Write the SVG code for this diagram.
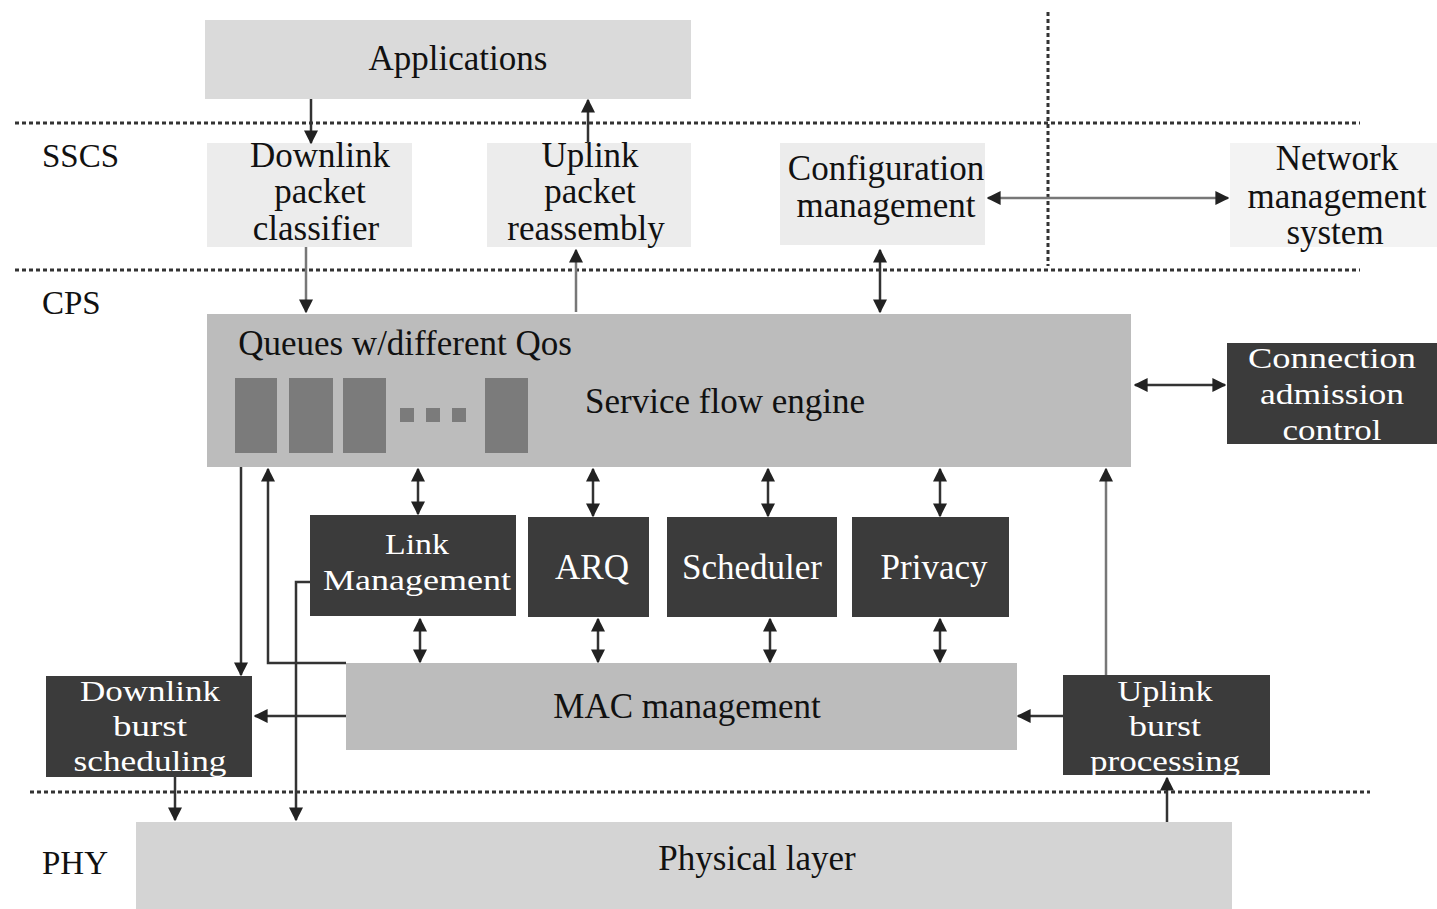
<svg xmlns="http://www.w3.org/2000/svg" width="1437" height="909" viewBox="0 0 1437 909">
  <defs>
    <marker id="ah" viewBox="0 0 10 10" refX="9" refY="5" markerWidth="14" markerHeight="14" markerUnits="userSpaceOnUse" orient="auto-start-reverse">
      <path d="M0,0 L10,5 L0,10 z" fill="#222"/>
    </marker>
    <style>
      .t { font-family: "Liberation Serif", "Times New Roman", serif; font-size: 35px; fill: #111; text-anchor: middle; }
      .w { fill: #fff; }
      .s { font-size: 30px; }
      .lbl { text-anchor: start; font-size: 33px; }
      .dot { stroke: #333; stroke-width: 3; stroke-dasharray: 4 3; fill: none; }
      .light { fill: #ececec; }
      .mid { fill: #bcbcbc; }
      .dark { fill: #3b3b3b; }
      .q { fill: #7b7b7b; }
      .c { stroke: #333; stroke-width: 2.5; fill: none; }
      .cg { stroke: #777; stroke-width: 2.5; fill: none; }
      .one { marker-end: url(#ah); }
      .two { marker-start: url(#ah); marker-end: url(#ah); }
    </style>
  </defs>
  <rect width="1437" height="909" fill="#fff"/>

  <!-- layer boundaries -->
  <g id="layers">
    <line class="dot" x1="15" y1="123" x2="1360" y2="123"/>
    <line class="dot" x1="15" y1="270" x2="1360" y2="270"/>
    <line class="dot" x1="30" y1="792" x2="1370" y2="792"/>
    <line class="dot" x1="1048" y1="12" x2="1048" y2="266"/>
    <text class="t lbl" x="42" y="167">SSCS</text>
    <text class="t lbl" x="42" y="314">CPS</text>
    <text class="t lbl" x="42" y="874">PHY</text>
  </g>

  <g id="applications">
    <rect x="205" y="20" width="486" height="79" fill="#dadada"/>
    <text class="t" x="458" y="70">Applications</text>
  </g>

  <g id="downlink-classifier">
    <rect class="light" x="207" y="143" width="205" height="104"/>
    <text class="t" x="320" y="167">Downlink</text>
    <text class="t" x="320" y="203">packet</text>
    <text class="t" x="316" y="240">classifier</text>
  </g>

  <g id="uplink-reassembly">
    <rect class="light" x="487" y="143" width="204" height="104"/>
    <text class="t" x="590" y="167">Uplink</text>
    <text class="t" x="590" y="203">packet</text>
    <text class="t" x="586" y="240">reassembly</text>
  </g>

  <g id="configuration">
    <rect class="light" x="780" y="143" width="205" height="102"/>
    <text class="t" x="886" y="180">Configuration</text>
    <text class="t" x="886" y="217">management</text>
  </g>

  <g id="network-management">
    <rect x="1230" y="143" width="207" height="104" fill="#f3f3f3"/>
    <text class="t" x="1337" y="170">Network</text>
    <text class="t" x="1337" y="208">management</text>
    <text class="t" x="1335" y="244">system</text>
  </g>

  <g id="service-flow-engine">
    <rect class="mid" x="207" y="314" width="924" height="153"/>
    <text class="t" x="405" y="355">Queues w/different Qos</text>
    <rect class="q" x="235" y="378" width="42" height="75"/>
    <rect class="q" x="289" y="378" width="44" height="75"/>
    <rect class="q" x="343" y="378" width="43" height="75"/>
    <rect class="q" x="400" y="408" width="14" height="14"/>
    <rect class="q" x="426" y="408" width="14" height="14"/>
    <rect class="q" x="452" y="408" width="14" height="14"/>
    <rect class="q" x="485" y="378" width="43" height="75"/>
    <text class="t" x="725" y="413">Service flow engine</text>
  </g>

  <g id="admission-control">
    <rect class="dark" x="1227" y="343" width="210" height="101"/>
    <text class="t w s" x="1332" y="368" textLength="168" lengthAdjust="spacingAndGlyphs">Connection</text>
    <text class="t w s" x="1332" y="404" textLength="144" lengthAdjust="spacingAndGlyphs">admission</text>
    <text class="t w s" x="1332" y="440" textLength="99" lengthAdjust="spacingAndGlyphs">control</text>
  </g>

  <g id="link-management">
    <rect class="dark" x="310" y="515" width="206" height="101"/>
    <text class="t w s" x="417" y="554" textLength="64" lengthAdjust="spacingAndGlyphs">Link</text>
    <text class="t w s" x="417" y="590" textLength="188" lengthAdjust="spacingAndGlyphs">Management</text>
  </g>

  <g id="arq">
    <rect class="dark" x="528" y="517" width="121" height="100"/>
    <text class="t w" x="592" y="579">ARQ</text>
  </g>

  <g id="scheduler">
    <rect class="dark" x="667" y="517" width="170" height="100"/>
    <text class="t w" x="752" y="579">Scheduler</text>
  </g>

  <g id="privacy">
    <rect class="dark" x="852" y="517" width="157" height="100"/>
    <text class="t w" x="934" y="579">Privacy</text>
  </g>

  <g id="mac-management">
    <rect class="mid" x="346" y="663" width="671" height="87"/>
    <text class="t" x="687" y="718">MAC management</text>
  </g>

  <g id="downlink-burst">
    <rect class="dark" x="46" y="676" width="206" height="101"/>
    <text class="t w s" x="150" y="701" textLength="140" lengthAdjust="spacingAndGlyphs">Downlink</text>
    <text class="t w s" x="150" y="736" textLength="74" lengthAdjust="spacingAndGlyphs">burst</text>
    <text class="t w s" x="150" y="771" textLength="153" lengthAdjust="spacingAndGlyphs">scheduling</text>
  </g>

  <g id="uplink-burst">
    <rect class="dark" x="1063" y="675" width="207" height="100"/>
    <text class="t w s" x="1165" y="701" textLength="95" lengthAdjust="spacingAndGlyphs">Uplink</text>
    <text class="t w s" x="1165" y="736" textLength="72" lengthAdjust="spacingAndGlyphs">burst</text>
    <text class="t w s" x="1165" y="771" textLength="150" lengthAdjust="spacingAndGlyphs">processing</text>
  </g>

  <g id="physical-layer">
    <rect x="136" y="822" width="1096" height="87" fill="#d4d4d4"/>
    <text class="t" x="757" y="870">Physical layer</text>
  </g>

  <!-- connectors -->
  <g id="connectors">
    <line class="c one" x1="311" y1="99" x2="311" y2="143"/>
    <line class="c one" x1="588" y1="143" x2="588" y2="100"/>
    <line class="cg one" x1="306" y1="247" x2="306" y2="312"/>
    <line class="cg one" x1="576" y1="312" x2="576" y2="250"/>
    <line class="c two" x1="880" y1="250" x2="880" y2="312"/>
    <line class="cg two" x1="988" y1="198" x2="1228" y2="198"/>
    <line class="c two" x1="1135" y1="385" x2="1225" y2="385"/>

    <line class="c two" x1="418" y1="469" x2="418" y2="514"/>
    <line class="c two" x1="593" y1="469" x2="593" y2="516"/>
    <line class="c two" x1="768" y1="469" x2="768" y2="516"/>
    <line class="c two" x1="940" y1="469" x2="940" y2="516"/>
    <line class="c two" x1="420" y1="619" x2="420" y2="662"/>
    <line class="c two" x1="598" y1="619" x2="598" y2="662"/>
    <line class="c two" x1="770" y1="619" x2="770" y2="662"/>
    <line class="c two" x1="940" y1="619" x2="940" y2="662"/>

    <line class="c one" x1="241" y1="467" x2="241" y2="675"/>
    <polyline class="c one" points="346,663 268,663 268,469"/>
    <polyline class="c one" points="310,582 296,582 296,820"/>
    <line class="c one" x1="346" y1="716" x2="255" y2="716"/>
    <line class="c one" x1="175" y1="777" x2="175" y2="820"/>
    <line class="c one" x1="1063" y1="716" x2="1018" y2="716"/>
    <line class="cg one" x1="1106" y1="675" x2="1106" y2="469"/>
    <line class="c one" x1="1167" y1="822" x2="1167" y2="778"/>
  </g>
</svg>
